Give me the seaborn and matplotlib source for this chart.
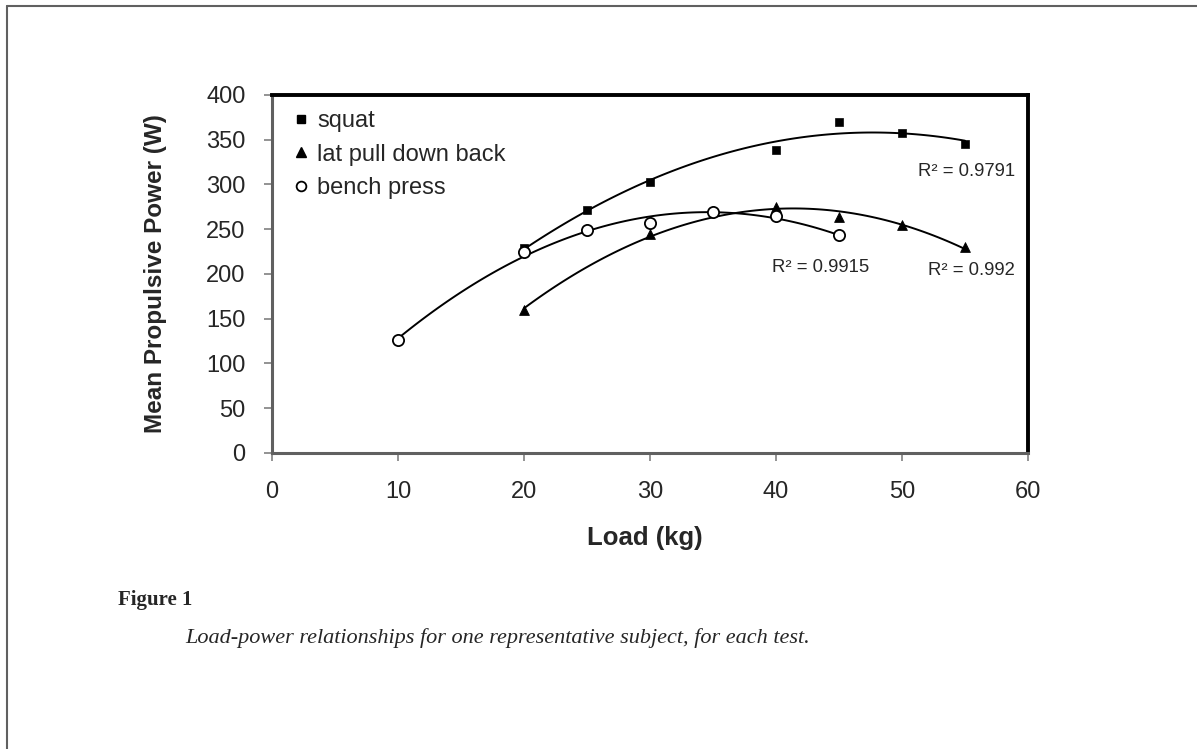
# Load-power relationships, seaborn version of the Excel figure

import pandas as pd
import seaborn as sns
from matplotlib import pyplot as plt
from matplotlib.lines import Line2D

# data
squat_load = [20, 25, 30, 40, 45, 50, 55]
squat_power = [229, 271, 303, 338, 370, 358, 345]

lat_load = [20, 30, 40, 45, 50, 55]
lat_power = [160, 245, 275, 264, 255, 230]

bench_load = [10, 20, 25, 30, 35, 40, 45]
bench_power = [126, 225, 249, 257, 269, 265, 243]

r2_labels = ["R² = 0.9791", "R² = 0.9915", "R² = 0.992"]
x_ticks = [0, 10, 20, 30, 40, 50, 60]
y_ticks = [0, 50, 100, 150, 200, 250, 300, 350, 400]

sns.set_style("white")
plt.rcParams['font.family'] = ['Liberation Sans', 'DejaVu Sans']

fig = plt.figure(figsize=(11.97, 7.49), dpi=100)
ax = fig.add_axes([0.2272, 0.3952, 0.6316, 0.478])

series = [
    ("squat", squat_load, squat_power, dict(marker="s", s=35, color="black", edgecolor="black")),
    ("lat pull down back", lat_load, lat_power, dict(marker="^", s=50, color="black", edgecolor="black")),
    ("bench press", bench_load, bench_power, dict(marker="o", s=65, facecolor="white", edgecolor="black", linewidth=1.3)),
]

handles = []
for name, x, y, kw in series:
    df = pd.DataFrame({"load": x, "power": y})
    # 2nd order polynomial trendline like Excel
    sns.regplot(data=df, x="load", y="power", order=2, ci=None, scatter=False,
                line_kws=dict(color="black", lw=1.4), ax=ax)
    sns.scatterplot(data=df, x="load", y="power", ax=ax, zorder=3, **kw)
    if kw["marker"] == "o":
        h = Line2D([], [], ls="none", marker="o", markersize=7, mfc="white", mec="black", mew=1.3)
    elif kw["marker"] == "s":
        h = Line2D([], [], ls="none", marker="s", markersize=5.5, color="black")
    else:
        h = Line2D([], [], ls="none", marker="^", markersize=6.5, color="black")
    handles.append(h)

ax.legend(handles, [s[0] for s in series], loc="upper left", frameon=False,
          fontsize=17, handletextpad=0.2, handlelength=1.0, labelspacing=0.5,
          borderaxespad=0.0, bbox_to_anchor=(0.01, 0.985))

# R squared labels
ax.text(51.3, 314, r2_labels[0], fontsize=13.3, va="center")
ax.text(39.7, 207, r2_labels[1], fontsize=13.3, va="center")
ax.text(52.1, 204, r2_labels[2], fontsize=13.3, va="center")

ax.set_xlim(0, 60)
ax.set_ylim(0, 400)
ax.set_xticks(x_ticks)
ax.set_yticks(y_ticks)
ax.tick_params(axis="both", labelsize=17, direction="out", length=6,
               width=1.2, color="#808080")
ax.tick_params(axis="x", pad=14)
ax.tick_params(axis="y", pad=13)
ax.xaxis.set_ticks_position("bottom")
ax.yaxis.set_ticks_position("left")

for side in ["top", "right"]:
    ax.spines[side].set_color("black")
    ax.spines[side].set_linewidth(2.8)
for side in ["left", "bottom"]:
    ax.spines[side].set_color("#606060")
    ax.spines[side].set_linewidth(2.2)

ax.set_xlabel("Load (kg)", fontsize=18.5, fontweight="bold")
ax.set_ylabel("Mean Propulsive Power (W)", fontsize=17.5, fontweight="bold")
ax.xaxis.set_label_coords(0.493, -0.205)
ax.yaxis.set_label_coords(-0.139, 0.5)

# caption below the chart
fig.text(118 / 1197, 1 - 600 / 749, "Figure 1", family="Liberation Serif",
         fontweight="bold", fontsize=15, va="center")
fig.text(185 / 1197, 1 - 638 / 749,
         "Load-power relationships for one representative subject, for each test.",
         family="Liberation Serif", style="italic", fontsize=16, va="center")

# page border lines
fig.add_artist(Line2D([7 / 1197, 7 / 1197], [0, 1 - 6 / 749], transform=fig.transFigure,
                      color="#606060", lw=1.5))
fig.add_artist(Line2D([7 / 1197, 1], [1 - 6 / 749, 1 - 6 / 749], transform=fig.transFigure,
                      color="#606060", lw=1.5))

fig.savefig("out.png", dpi=100)
